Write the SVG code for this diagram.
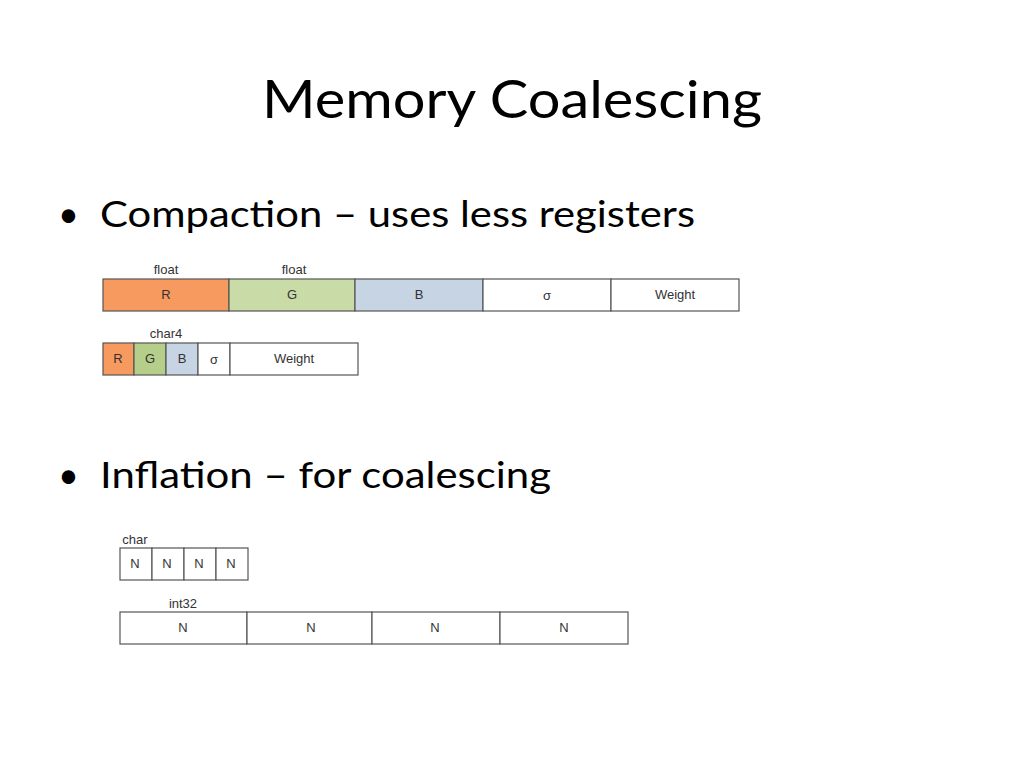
<svg xmlns="http://www.w3.org/2000/svg" width="1024" height="768" viewBox="0 0 1024 768">
<style>
.t{font-family:Lato,"Liberation Sans",sans-serif;fill:#000}
.c{stroke:#555;stroke-width:1.2}
.l{font-family:"Liberation Sans",Arial,sans-serif;font-size:13px;fill:#333;text-anchor:middle}
</style>
<rect width="1024" height="768" fill="#fff"/>
<text class="t" x="512" y="118" font-size="52" text-anchor="middle" textLength="500" lengthAdjust="spacingAndGlyphs">Memory Coalescing</text>
<text class="t" x="58" y="227" font-size="36">•</text>
<text class="t" x="100" y="227" font-size="36" textLength="595" lengthAdjust="spacingAndGlyphs">Compaction – uses less registers</text>
<text class="t" x="58" y="488" font-size="36">•</text>
<text class="t" x="100" y="488" font-size="36" textLength="451" lengthAdjust="spacingAndGlyphs">Inflation – for coalescing</text>
<g id="row1">
<rect class="c" x="103" y="279" width="126" height="32" fill="#f79a5f"/>
<rect class="c" x="229" y="279" width="126" height="32" fill="#c9dba6"/>
<rect class="c" x="355" y="279" width="128" height="32" fill="#c6d4e3"/>
<rect class="c" x="483" y="279" width="128" height="32" fill="#fff"/>
<rect class="c" x="611" y="279" width="128" height="32" fill="#fff"/>
<text class="l" x="166" y="274">float</text><text class="l" x="294" y="274">float</text>
<text class="l" x="166" y="299">R</text><text class="l" x="292" y="299">G</text><text class="l" x="419" y="299">B</text>
<text class="l" x="547" y="300" font-size="17">σ</text><text class="l" x="675" y="299">Weight</text>
</g>
<g id="row2">
<rect class="c" x="103" y="343" width="31" height="32" fill="#f79a5f"/>
<rect class="c" x="134" y="343" width="32" height="32" fill="#b5cf8a"/>
<rect class="c" x="166" y="343" width="32" height="32" fill="#c6d4e3"/>
<rect class="c" x="198" y="343" width="32" height="32" fill="#fff"/>
<rect class="c" x="230" y="343" width="128" height="32" fill="#fff"/>
<text class="l" x="166" y="338">char4</text>
<text class="l" x="118" y="363">R</text><text class="l" x="150" y="363">G</text><text class="l" x="182" y="363">B</text>
<text class="l" x="214" y="364" font-size="17">σ</text><text class="l" x="294" y="363">Weight</text>
</g>
<g id="row3">
<rect class="c" x="120" y="548" width="32" height="32" fill="#fff"/>
<rect class="c" x="152" y="548" width="32" height="32" fill="#fff"/>
<rect class="c" x="184" y="548" width="32" height="32" fill="#fff"/>
<rect class="c" x="216" y="548" width="32" height="32" fill="#fff"/>
<text class="l" x="135" y="544">char</text>
<text class="l" x="135" y="568">N</text><text class="l" x="167" y="568">N</text><text class="l" x="199" y="568">N</text><text class="l" x="231" y="568">N</text>
</g>
<g id="row4">
<rect class="c" x="120" y="612" width="127" height="32" fill="#fff"/>
<rect class="c" x="247" y="612" width="125" height="32" fill="#fff"/>
<rect class="c" x="372" y="612" width="128" height="32" fill="#fff"/>
<rect class="c" x="500" y="612" width="128" height="32" fill="#fff"/>
<text class="l" x="183" y="608">int32</text>
<text class="l" x="183" y="632">N</text><text class="l" x="311" y="632">N</text><text class="l" x="435" y="632">N</text><text class="l" x="564" y="632">N</text>
</g>
<g id="connectors"/>
</svg>
